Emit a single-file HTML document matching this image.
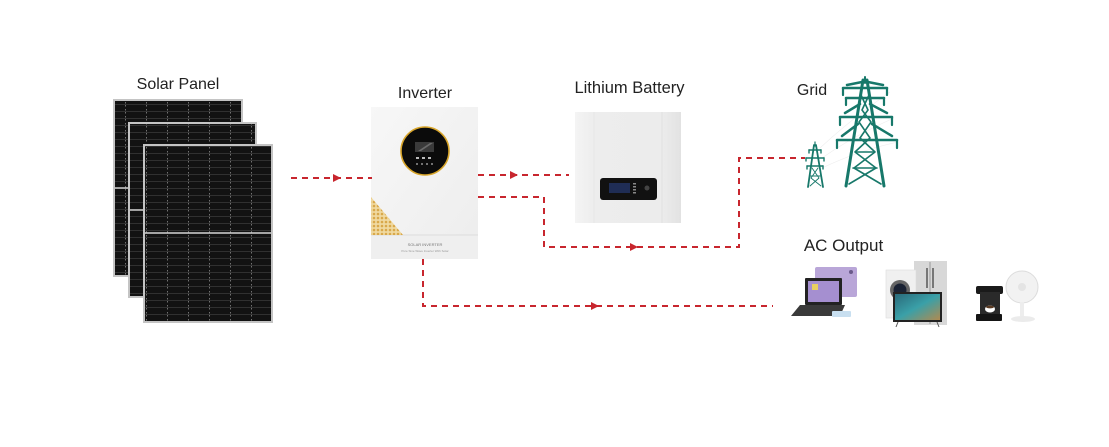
<!DOCTYPE html>
<html><head><meta charset="utf-8"><style>
html,body{margin:0;padding:0;background:#fff;}
svg{display:block;}
text{font-family:"Liberation Sans",sans-serif;fill:#222;}
</style></head><body>
<svg width="1109" height="447" viewBox="0 0 1109 447" xmlns="http://www.w3.org/2000/svg">
<defs>
  <pattern id="cells" x="0" y="0" width="21" height="7" patternUnits="userSpaceOnUse">
    <rect width="21" height="7" fill="#121212"/>
    <line x1="0" y1="6.5" x2="21" y2="6.5" stroke="#3a3a3a" stroke-width="0.7"/>
    <line x1="20.5" y1="0" x2="20.5" y2="7" stroke="#9a9a9a" stroke-width="0.7" stroke-dasharray="1.5 2.5"/>
  </pattern>
  <pattern id="gold" width="4" height="4" patternUnits="userSpaceOnUse">
    <rect width="4" height="4" fill="#f0d9a0"/>
    <circle cx="2" cy="2" r="1.3" fill="#d9a84a"/>
  </pattern>
  <linearGradient id="invg" x1="0" y1="0" x2="1" y2="1">
    <stop offset="0" stop-color="#f7f7f7"/><stop offset="1" stop-color="#ededed"/>
  </linearGradient>
  <linearGradient id="batg" x1="0" y1="0" x2="1" y2="0">
    <stop offset="0" stop-color="#f4f4f4"/><stop offset="0.18" stop-color="#ededed"/><stop offset="0.82" stop-color="#ececec"/><stop offset="1" stop-color="#e2e2e2"/>
  </linearGradient>
  <linearGradient id="tvg" x1="0" y1="0" x2="1" y2="1">
    <stop offset="0" stop-color="#2a6a7a"/><stop offset="0.5" stop-color="#3aa0a8"/><stop offset="1" stop-color="#b08a50"/>
  </linearGradient>
</defs>

<!-- Labels -->
<text x="178" y="89" font-size="16" text-anchor="middle">Solar Panel</text>
<text x="425" y="98" font-size="16" text-anchor="middle">Inverter</text>
<text x="629.5" y="93" font-size="16.5" text-anchor="middle">Lithium Battery</text>
<text x="812" y="95" font-size="16" text-anchor="middle">Grid</text>
<text x="843.5" y="251" font-size="17" text-anchor="middle">AC Output</text>

<!-- Solar panels -->
<g>
  <rect x="113" y="99" width="130" height="178" fill="#c4c4c4"/>
  <rect x="115" y="101" width="126" height="174" fill="url(#cells)"/>
  <line x1="115" y1="188" x2="241" y2="188" stroke="#cfcfcf" stroke-width="1.5"/>
  <rect x="128" y="122" width="129" height="176" fill="#c4c4c4"/>
  <rect x="130" y="124" width="125" height="172" fill="url(#cells)"/>
  <line x1="130" y1="210" x2="255" y2="210" stroke="#cfcfcf" stroke-width="1.5"/>
  <rect x="143" y="144" width="130" height="179" fill="#c4c4c4"/>
  <rect x="145" y="146" width="126" height="175" fill="url(#cells)"/>
  <line x1="145" y1="233" x2="271" y2="233" stroke="#d6d6d6" stroke-width="1.6"/>
</g>

<!-- Inverter -->
<g>
  <rect x="371" y="107" width="107" height="152" fill="url(#invg)"/>
  <rect x="371" y="235" width="107" height="24" fill="#efefef"/>
  <line x1="371" y1="235" x2="478" y2="235" stroke="#dcdcdc" stroke-width="1"/>
  <polygon points="371,197 371,235 403,235" fill="url(#gold)"/>
  <circle cx="425" cy="151" r="24" fill="#0b0b0b" stroke="#d8a52a" stroke-width="1.6"/>
  <rect x="415" y="142" width="19" height="10" fill="#3a3a3a"/>
  <polygon points="418,151 430,143 433,143 421,151" fill="#6a6a6a"/>
  <g fill="#bbb">
    <rect x="416" y="157" width="3" height="2"/><rect x="422" y="157" width="3" height="2"/><rect x="428" y="157" width="3" height="2"/>
    <circle cx="417" cy="164" r="0.9"/><circle cx="422" cy="164" r="0.9"/><circle cx="427" cy="164" r="0.9"/><circle cx="432" cy="164" r="0.9"/>
  </g>
  <text x="425" y="246" font-size="4" text-anchor="middle" style="fill:#777">SOLAR INVERTER</text>
  <text x="425" y="252" font-size="3" text-anchor="middle" style="fill:#999">Pure Sine Wave Inverter With Solar</text>
</g>

<!-- Battery -->
<g>
  <rect x="575" y="112" width="106" height="111" fill="url(#batg)"/>
  <line x1="594" y1="112" x2="594" y2="223" stroke="#e6e6e6" stroke-width="1"/>
  <line x1="662" y1="112" x2="662" y2="223" stroke="#e0e0e0" stroke-width="1"/>
  <rect x="600" y="178" width="57" height="22" rx="3" fill="#111"/>
  <rect x="609" y="183" width="21" height="10" fill="#1f2d55"/>
  <g fill="#888"><rect x="633" y="183" width="3" height="1.5"/><rect x="633" y="186" width="3" height="1.5"/><rect x="633" y="189" width="3" height="1.5"/><rect x="633" y="192" width="3" height="1.5"/></g>
  <circle cx="647" cy="188" r="2.5" fill="#444"/>
</g>

<!-- Towers -->
<g stroke="#eee" stroke-width="0.6" fill="none">
  <path d="M820 148 Q850 120 890 92"/><path d="M822 158 Q855 135 894 118"/><path d="M822 168 Q860 150 898 142"/>
</g>
<g stroke="#17786a" fill="none" stroke-linecap="round" stroke-linejoin="round">
  <line x1="863" y1="80" x2="846" y2="186" stroke-width="3"/>
  <line x1="867" y1="80" x2="884" y2="186" stroke-width="3"/>
  <line x1="865" y1="77" x2="865" y2="83" stroke-width="2"/>
  <g stroke-width="1.6">
    <path d="M861 95 L868 110 L859 122 L870 138 L855 152 L876 168 L849 184"/>
    <path d="M869 95 L862 110 L871 122 L860 138 L875 152 L854 168 L881 184"/>
    <line x1="857" y1="152" x2="873" y2="152"/><line x1="853" y1="168" x2="877" y2="168"/>
  </g>
  <g stroke-width="2.5">
    <path d="M843 88 L887 88"/><path d="M846 98 L884 98"/>
    <path d="M840 117 L892 117"/><path d="M837 140 L897 140"/>
    <path d="M847 85 L862 82 M883 85 L868 82"/>
    <path d="M845 113 L860 104 M887 113 L870 104"/>
    <path d="M842 136 L858 124 M892 136 L872 124"/>
  </g>
  <g stroke-width="2.2">
    <line x1="843" y1="88" x2="843" y2="95"/><line x1="887" y1="88" x2="887" y2="95"/>
    <line x1="846" y1="98" x2="846" y2="105"/><line x1="884" y1="98" x2="884" y2="105"/>
    <line x1="840" y1="117" x2="840" y2="125"/><line x1="892" y1="117" x2="892" y2="125"/>
    <line x1="837" y1="140" x2="837" y2="148"/><line x1="897" y1="140" x2="897" y2="148"/>
  </g>
  <line x1="814" y1="145" x2="808" y2="187" stroke-width="1.8"/>
  <line x1="816" y1="145" x2="823" y2="187" stroke-width="1.8"/>
  <line x1="815" y1="142" x2="815" y2="146" stroke-width="1.2"/>
  <g stroke-width="1.4">
    <line x1="809" y1="150" x2="821" y2="150"/><line x1="806" y1="158" x2="824" y2="158"/><line x1="807" y1="166" x2="823" y2="166"/>
    <line x1="809" y1="150" x2="809" y2="153"/><line x1="821" y1="150" x2="821" y2="153"/>
    <line x1="806" y1="158" x2="806" y2="161"/><line x1="824" y1="158" x2="824" y2="161"/>
    <line x1="807" y1="166" x2="807" y2="169"/><line x1="823" y1="166" x2="823" y2="169"/>
  </g>
  <g stroke-width="0.9">
    <path d="M812 168 L819 178 L810 186 M818 168 L811 178 L821 186"/>
    <line x1="810" y1="176" x2="820" y2="176"/>
  </g>
</g>

<!-- Connectors -->
<g stroke="#c8262e" stroke-width="2" fill="none" stroke-dasharray="6 5">
  <path d="M291 178 H372"/>
  <path d="M478 175 H569"/>
  <path d="M478 197 H544 V247 H739 V158 H805"/>
  <path d="M423 259 V306 H773"/>
</g>
<g fill="#c8262e">
  <polygon points="333,174 341,178 333,182"/>
  <polygon points="510,171 518,175 510,179"/>
  <polygon points="630,243 638,247 630,251"/>
  <polygon points="591,302 599,306 591,310"/>
</g>

<!-- Appliances -->
<g>
  <rect x="815" y="267" width="42" height="30" rx="2" fill="#b9a6d8"/>
  <circle cx="851" cy="272" r="2" fill="#6a5a8a"/>
  <rect x="805" y="278" width="37" height="27" rx="1" fill="#222"/>
  <rect x="808" y="281" width="31" height="21" fill="#a58fd0"/>
  <rect x="812" y="284" width="6" height="6" fill="#e8d060"/>
  <polygon points="800,305 845,305 840,316 791,316" fill="#3a3a3a"/>
  <rect x="832" y="311" width="19" height="6" rx="1" fill="#c8dff0"/>
  <rect x="914" y="261" width="33" height="64" fill="#d8d8d8"/>
  <line x1="930" y1="262" x2="930" y2="324" stroke="#888" stroke-width="0.8"/>
  <rect x="926" y="268" width="2" height="20" fill="#777"/>
  <rect x="932" y="268" width="2" height="20" fill="#777"/>
  <rect x="886" y="270" width="30" height="48" fill="#f0f0f0" stroke="#ddd" stroke-width="0.6"/>
  <circle cx="900" cy="290" r="10" fill="#666"/>
  <circle cx="900" cy="290" r="6.5" fill="#1a2233"/>
  <rect x="893" y="292" width="49" height="30" fill="#222"/>
  <rect x="895" y="294" width="45" height="26" fill="url(#tvg)"/>
  <line x1="898" y1="322" x2="896" y2="327" stroke="#555" stroke-width="1"/>
  <line x1="937" y1="322" x2="939" y2="327" stroke="#555" stroke-width="1"/>
  <rect x="976" y="286" width="27" height="8" rx="2" fill="#1a1a1a"/>
  <rect x="980" y="292" width="20" height="22" fill="#2a2a2a"/>
  <rect x="976" y="314" width="26" height="7" rx="1" fill="#151515"/>
  <ellipse cx="990" cy="309" rx="5" ry="3.5" fill="#fff"/>
  <ellipse cx="990" cy="307" rx="4" ry="1.4" fill="#5a3a22"/>
  <circle cx="1022" cy="287" r="16" fill="#f2f2f2" stroke="#dcdcdc" stroke-width="1"/>
  <circle cx="1022" cy="287" r="4" fill="#e4e4e4"/>
  <rect x="1020" y="302" width="4" height="16" fill="#ededed"/>
  <ellipse cx="1023" cy="319" rx="12" ry="3" fill="#ebebeb"/>
</g>
</svg>
</body></html>
